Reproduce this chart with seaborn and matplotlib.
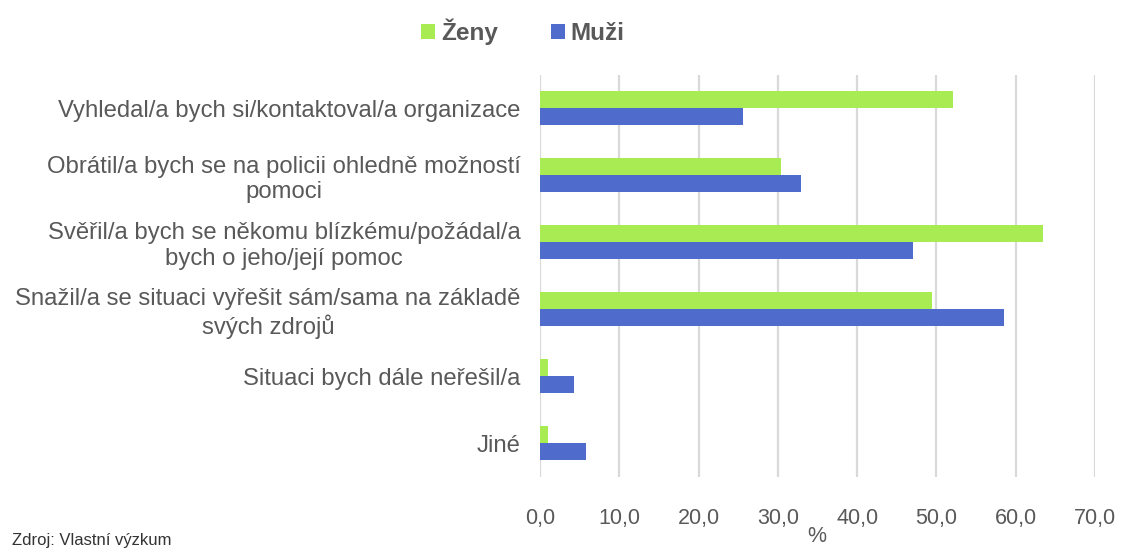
import matplotlib
matplotlib.use("Agg")
import matplotlib.pyplot as plt
from matplotlib.patches import Patch
import seaborn as sns
import pandas as pd

# Survey answers (share of respondents, %)
categories = [
    "Vyhledal/a bych si/kontaktoval/a organizace",
    "Obrátil/a bych se na policii ohledně možností\npomoci",
    "Svěřil/a bych se někomu blízkému/požádal/a\nbych o jeho/její pomoc",
    "Snažil/a se situaci vyřešit sám/sama na základě\nsvých zdrojů",
    "Situaci bych dále neřešil/a",
    "Jiné",
]
zeny = [52.1, 30.4, 63.4, 49.5, 1.0, 1.0]
muzi = [25.6, 32.9, 47.1, 58.5, 4.3, 5.8]
series = ["Ženy", "Muži"]
xticks = [0, 10, 20, 30, 40, 50, 60, 70]
xtick_labels = ["0,0", "10,0", "20,0", "30,0", "40,0", "50,0", "60,0", "70,0"]

df = pd.DataFrame({
    "kategorie": categories * 2,
    "pohlavi": [series[0]] * len(categories) + [series[1]] * len(categories),
    "hodnota": zeny + muzi,
})

sns.set_theme(style="white")
plt.rcParams["font.family"] = ["Liberation Sans", "DejaVu Sans"]

green = "#a9eb52"
blue = "#4f6bcb"
text_col = "#595959"

fig = plt.figure(figsize=(11.22, 5.49), dpi=100)
ax = fig.add_axes([540 / 1122, 1 - 476.5 / 549, (1095 - 540) / 1122, (476.5 - 74.5) / 549])

sns.barplot(
    data=df, y="kategorie", x="hodnota", hue="pohlavi",
    order=categories, hue_order=series,
    palette=[green, blue], saturation=1, orient="h", width=0.51,
    edgecolor="none", ax=ax, legend=False,
)

ax.set_xlim(0, 70)
ax.set_xticks(xticks)
ax.set_xticklabels(xtick_labels, fontsize=15.5, color=text_col)
ax.tick_params(axis="x", length=0, pad=23)
ax.tick_params(axis="y", length=0, pad=14)
for lbl in ax.get_yticklabels():
    lbl.set_fontsize(17.2)
    lbl.set_color(text_col)
    lbl.set_multialignment("center")
ax.set_xlabel("")
ax.set_ylabel("")
ax.xaxis.grid(True, color="#d9d9d9", linewidth=1.6)
ax.set_axisbelow(True)
for s in ax.spines.values():
    s.set_visible(False)

handles = [Patch(facecolor=green, edgecolor="none"), Patch(facecolor=blue, edgecolor="none")]
leg = fig.legend(
    handles, series, loc="center", bbox_to_anchor=(523 / 1122, 1 - 32 / 549),
    ncol=2, frameon=False, handlelength=0.55, handleheight=0.55,
    handletextpad=0.25, columnspacing=2.2,
    prop={"size": 17.5, "weight": "bold"},
)
for t in leg.get_texts():
    t.set_color(text_col)

fig.text(817 / 1122, 2 / 549, "%", ha="center", va="bottom", fontsize=15.5, color=text_col)
fig.text(12 / 1122, 1 / 549, "Zdroj: Vlastní výzkum", ha="left", va="bottom", fontsize=12, color="#333333")

fig.savefig("out.png", dpi=100)
